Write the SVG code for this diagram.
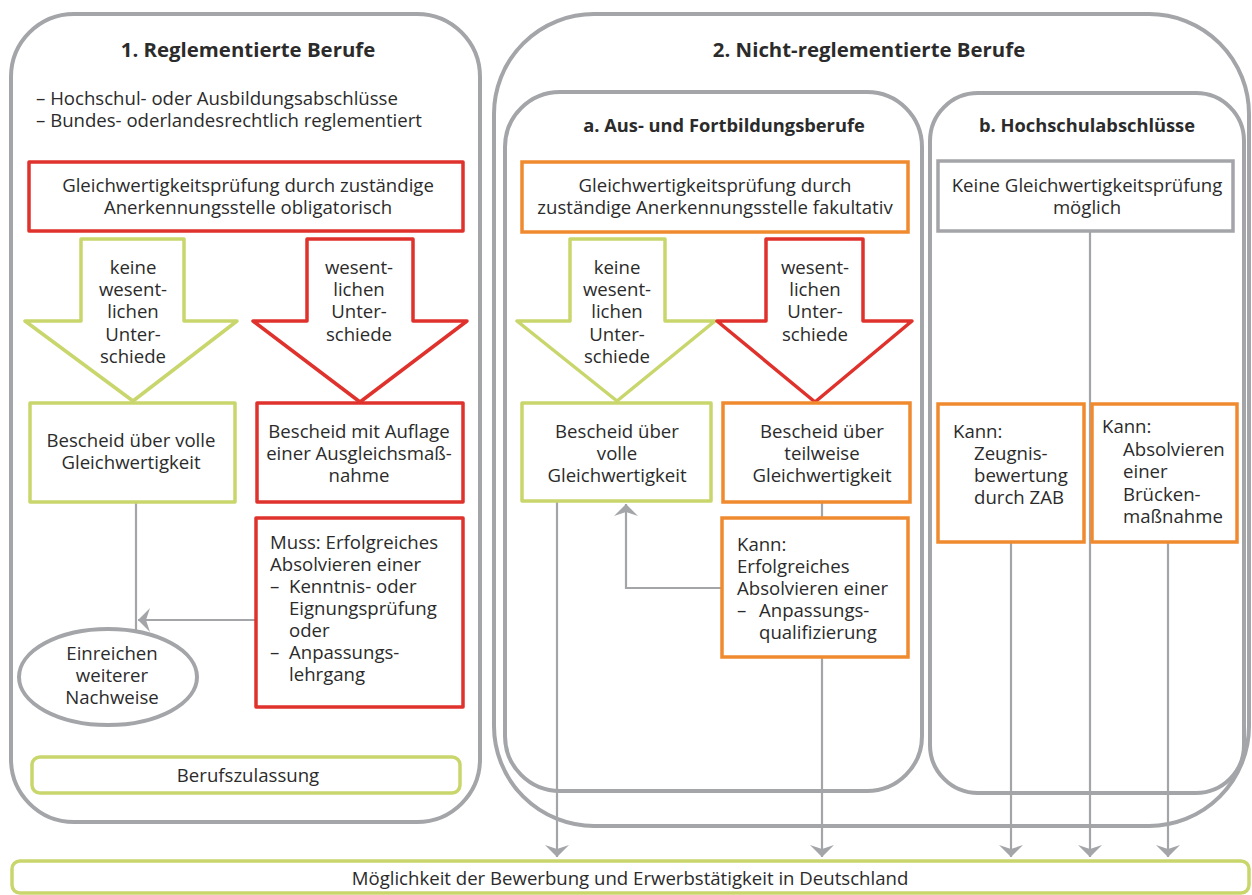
<svg xmlns="http://www.w3.org/2000/svg" width="1252" height="895" viewBox="0 0 1252 895">
<defs>
<style>
text{font-family:"Open Sans","Liberation Sans",sans-serif;font-size:18.6px;fill:#2b2b2b}
.t{font-weight:bold;font-size:20.4px}
.st{font-weight:bold;font-size:18.3px}
.c{text-anchor:middle}
.panel{fill:none;stroke:#a3a5a8;stroke-width:4}
.red{fill:#fff;stroke:#e0322c;stroke-width:3.5;stroke-linejoin:round}
.grn{fill:#fff;stroke:#c9d66c;stroke-width:3.5;stroke-linejoin:round}
.org{fill:#fff;stroke:#ef8a2f;stroke-width:3.5}
.gry{fill:#fff;stroke:#a3a5a8;stroke-width:3.5}
.ln{fill:none;stroke:#a3a5a8;stroke-width:2.2}
</style>
<marker id="ah" viewBox="0 0 12 24" refX="12" refY="12" markerWidth="12" markerHeight="24" markerUnits="userSpaceOnUse" orient="auto">
<path d="M0,0 L12,12 L0,24 L4,12 Z" fill="#a3a5a8"/>
</marker>
</defs>

<g id="panel1">
<rect class="panel" x="11" y="14" width="469" height="808" rx="63"/>
<text class="t c" x="248" y="57">1. Reglementierte Berufe</text>
<text x="36" y="105">– Hochschul- oder Ausbildungsabschlüsse</text>
<text x="36" y="127">– Bundes- oderlandesrechtlich reglementiert</text>
</g>

<g id="panel2">
<rect class="panel" x="494" y="14" width="755" height="812" rx="100"/>
<text class="t c" x="869" y="57">2. Nicht-reglementierte Berufe</text>
</g>
<g id="panel2a">
<rect class="panel" x="505" y="92" width="417" height="699" rx="55"/>
<text class="st c" x="724" y="132">a. Aus- und Fortbildungsberufe</text>
</g>
<g id="panel2b">
<rect class="panel" x="930" y="93" width="314" height="700" rx="48"/>
<text class="st c" x="1087" y="132">b. Hochschulabschlüsse</text>
</g>

<g id="connectors">
<line class="ln" x1="136" y1="502" x2="136" y2="631"/>
<line class="ln" x1="256" y1="620" x2="138" y2="620" marker-end="url(#ah)"/>
<polyline class="ln" points="722,588 626,588 626,504" marker-end="url(#ah)"/>
<line class="ln" x1="822" y1="502" x2="822" y2="518"/>
<line class="ln" x1="557" y1="502" x2="557" y2="857" marker-end="url(#ah)"/>
<line class="ln" x1="822" y1="657" x2="822" y2="857" marker-end="url(#ah)"/>
<line class="ln" x1="1090" y1="232" x2="1090" y2="857" marker-end="url(#ah)"/>
<line class="ln" x1="1011" y1="542" x2="1011" y2="857" marker-end="url(#ah)"/>
<line class="ln" x1="1168" y1="542" x2="1168" y2="857" marker-end="url(#ah)"/>
</g>

<g id="pruefung1">
<rect class="red" x="29" y="162" width="434" height="69"/>
<text class="c" x="248" y="192">Gleichwertigkeitsprüfung durch zuständige</text>
<text class="c" x="248" y="214">Anerkennungsstelle obligatorisch</text>
</g>

<g id="arrow1-green">
<polygon class="grn" points="81,239 184,239 184,321 237,321 133,401 25,321 81,321"/>
<text class="c" x="133" y="274">keine</text>
<text class="c" x="133" y="296">wesent-</text>
<text class="c" x="133" y="318">lichen</text>
<text class="c" x="133" y="341">Unter-</text>
<text class="c" x="133" y="363">schiede</text>
</g>

<g id="arrow1-red">
<polygon class="red" points="307,239 413,239 413,321 467,321 360,402 253,321 307,321"/>
<text class="c" x="359" y="274">wesent-</text>
<text class="c" x="359" y="296">lichen</text>
<text class="c" x="359" y="318">Unter-</text>
<text class="c" x="359" y="341">schiede</text>
</g>

<g id="bescheid1-voll">
<rect class="grn" x="30" y="403" width="205" height="99"/>
<text class="c" x="131" y="447">Bescheid über volle</text>
<text class="c" x="131" y="469">Gleichwertigkeit</text>
</g>

<g id="bescheid1-auflage">
<rect class="red" x="257" y="403" width="206" height="99"/>
<text class="c" x="359" y="438">Bescheid mit Auflage</text>
<text class="c" x="359" y="460">einer Ausgleichsmaß-</text>
<text class="c" x="359" y="482">nahme</text>
</g>

<g id="muss">
<rect class="red" x="256" y="518" width="207" height="189"/>
<text x="270" y="549">Muss: Erfolgreiches</text>
<text x="270" y="571">Absolvieren einer</text>
<text x="270" y="593">–</text><text x="289" y="593">Kenntnis- oder</text>
<text x="289" y="615">Eignungsprüfung</text>
<text x="289" y="637">oder</text>
<text x="270" y="659">–</text><text x="289" y="659">Anpassungs-</text>
<text x="289" y="681">lehrgang</text>
</g>

<g id="nachweise">
<ellipse cx="108" cy="677" rx="89" ry="48" fill="#fff" stroke="#a3a5a8" stroke-width="4"/>
<text class="c" x="112" y="660">Einreichen</text>
<text class="c" x="112" y="682">weiterer</text>
<text class="c" x="112" y="704">Nachweise</text>
</g>

<g id="berufszulassung">
<rect class="grn" x="32" y="757" width="428" height="36" rx="8"/>
<text class="c" x="248" y="782">Berufszulassung</text>
</g>

<g id="pruefung2a">
<rect class="org" x="522" y="162" width="386" height="70"/>
<text class="c" x="715" y="192">Gleichwertigkeitsprüfung durch</text>
<text class="c" x="715" y="214">zuständige Anerkennungsstelle fakultativ</text>
</g>

<g id="arrow2-green">
<polygon class="grn" points="570,239 665,239 665,321 715,321 617,401 517,321 570,321"/>
<text class="c" x="617" y="274">keine</text>
<text class="c" x="617" y="296">wesent-</text>
<text class="c" x="617" y="318">lichen</text>
<text class="c" x="617" y="341">Unter-</text>
<text class="c" x="617" y="363">schiede</text>
</g>

<g id="arrow2-red">
<polygon class="red" points="766,239 863,239 863,321 912,321 815,402 717,321 766,321"/>
<text class="c" x="815" y="274">wesent-</text>
<text class="c" x="815" y="296">lichen</text>
<text class="c" x="815" y="318">Unter-</text>
<text class="c" x="815" y="341">schiede</text>
</g>

<g id="bescheid2-voll">
<rect class="grn" x="522" y="403" width="189" height="98"/>
<text class="c" x="617" y="438">Bescheid über</text>
<text class="c" x="617" y="460">volle</text>
<text class="c" x="617" y="482">Gleichwertigkeit</text>
</g>

<g id="bescheid2-teilweise">
<rect class="org" x="723" y="403" width="187" height="99"/>
<text class="c" x="822" y="438">Bescheid über</text>
<text class="c" x="822" y="460">teilweise</text>
<text class="c" x="822" y="482">Gleichwertigkeit</text>
</g>

<g id="kann2a">
<rect class="org" x="722" y="518" width="186" height="139"/>
<text x="737" y="551">Kann:</text>
<text x="737" y="573">Erfolgreiches</text>
<text x="737" y="595">Absolvieren einer</text>
<text x="737" y="617">–</text><text x="759" y="617">Anpassungs-</text>
<text x="759" y="639">qualifizierung</text>
</g>

<g id="keine-pruefung">
<rect class="gry" x="938" y="161" width="295" height="70"/>
<text class="c" x="1087" y="192">Keine Gleichwertigkeitsprüfung</text>
<text class="c" x="1087" y="214">möglich</text>
</g>

<g id="kann-zab">
<rect class="org" x="938" y="404" width="146" height="138"/>
<text x="953" y="438">Kann:</text>
<text x="974" y="460">Zeugnis-</text>
<text x="974" y="482">bewertung</text>
<text x="974" y="504">durch ZAB</text>
</g>

<g id="kann-bruecke">
<rect class="org" x="1092" y="404" width="145" height="138"/>
<text x="1102" y="433">Kann:</text>
<text x="1123" y="456">Absolvieren</text>
<text x="1123" y="478">einer</text>
<text x="1123" y="501">Brücken-</text>
<text x="1123" y="523">maßnahme</text>
</g>

<g id="moeglichkeit">
<rect class="grn" x="12" y="861" width="1237" height="32" rx="8"/>
<text class="c" x="630" y="885">Möglichkeit der Bewerbung und Erwerbstätigkeit in Deutschland</text>
</g>
</svg>
